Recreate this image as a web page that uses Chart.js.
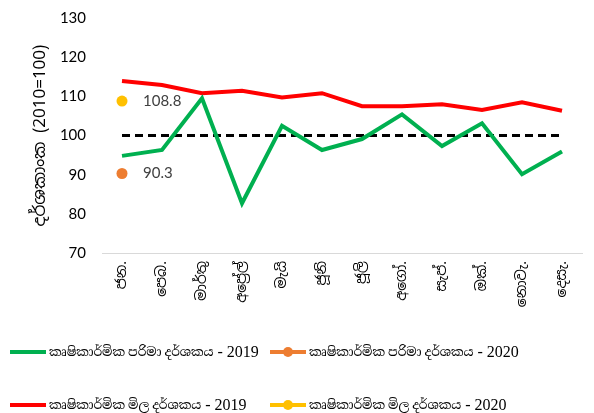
<!DOCTYPE html>
<html>
<head>
<meta charset="utf-8">
<script src="https://cdn.jsdelivr.net/npm/chart.js@4.4.1/dist/chart.umd.min.js"></script>
<style>
  html, body { margin: 0; padding: 0; background: #fff; }
  #wrap { position: relative; width: 594px; height: 413px; overflow: hidden; }
  #box { position: absolute; left: 0; top: 0; width: 594px; height: 330px; }
  #legend { position: absolute; left: 0; top: 0; width: 594px; height: 413px; pointer-events: none; }
  .item { position: absolute; display: flex; align-items: center; white-space: nowrap;
          font-family: 'Liberation Serif', 'Noto Serif Sinhala', 'Noto Sans Sinhala', serif; font-size: 12.5px; color: #000; }
  .item b { font-weight: normal; font-size: 16px; margin-left: 4px; }
  .swatch { position: relative; width: 36px; height: 4px; margin-right: 3px; flex: none; }
  .swatch span { position: absolute; left: 13px; top: -3px; width: 10px; height: 10px; border-radius: 50%; }
</style>
</head>
<body>
<div id="wrap">
  <div id="box"><canvas id="grafico"></canvas></div>
  <div id="legend"></div>
</div>
<script>
// ----- datos -----
const meses = ["ජන.", "පෙබ.", "මාර්තු", "අප්‍රේල්", "මැයි", "ජූනි", "ජූලි", "අගෝ.", "සැප්.", "ඔක්.", "නොවැ.", "දෙසැ."];
const parima2019 = [94.8, 96.3, 109.5, 82.7, 102.5, 96.3, 99.1, 105.4, 97.3, 103.1, 90.1, 95.9];
const mila2019 = [113.9, 112.9, 110.8, 111.4, 109.7, 110.8, 107.5, 107.5, 108.0, 106.5, 108.5, 106.3];
const parima2020 = [90.3];
const mila2020 = [108.8];
const pathaya = [100, 100, 100, 100, 100, 100, 100, 100, 100, 100, 100, 100];
const yTicks = [70, 80, 90, 100, 110, 120, 130];

const fuenteSinhala = "'Noto Sans Sinhala', 'Noto Serif Sinhala', 'Noto Sans', sans-serif";

// etiquetas de valor para los puntos de 2020
const etiquetasValor = {
    id: 'etiquetasValor',
    afterDatasetsDraw(chart) {
        const ctx = chart.ctx;
        chart.data.datasets.forEach((ds, i) => {
            if (!ds.mostrarValor) return;
            const meta = chart.getDatasetMeta(i);
            meta.data.forEach((pt, j) => {
                ctx.save();
                ctx.font = "15px Lato, 'Open Sans', sans-serif";
                ctx.fillStyle = '#404040';
                ctx.textAlign = 'left';
                ctx.textBaseline = 'middle';
                ctx.fillText(ds.data[j].toFixed(1), pt.x + 21, pt.y);
                ctx.restore();
            });
        });
    }
};

const chart = new Chart(document.getElementById('grafico'), {
    type: 'line',
    data: {
        labels: meses,
        datasets: [
            {
                label: 'කෘෂිකාර්මික පරිමා දර්ශකය - 2019',
                data: parima2019,
                borderColor: '#00b050',
                backgroundColor: '#00b050',
                borderWidth: 4,
                pointRadius: 0,
                tension: 0,
                order: 2
            },
            {
                label: 'කෘෂිකාර්මික පරිමා දර්ශකය - 2020',
                data: parima2020,
                borderColor: '#ed7d31',
                backgroundColor: '#ed7d31',
                borderWidth: 4,
                pointRadius: 5.5,
                pointBorderWidth: 0,
                mostrarValor: true,
                order: 1
            },
            {
                label: 'කෘෂිකාර්මික මිල දර්ශකය - 2019',
                data: mila2019,
                borderColor: '#ff0000',
                backgroundColor: '#ff0000',
                borderWidth: 4,
                pointRadius: 0,
                tension: 0,
                order: 2
            },
            {
                label: 'කෘෂිකාර්මික මිල දර්ශකය - 2020',
                data: mila2020,
                borderColor: '#ffc000',
                backgroundColor: '#ffc000',
                borderWidth: 4,
                pointRadius: 5.5,
                pointBorderWidth: 0,
                mostrarValor: true,
                order: 1
            },
            {
                label: 'pathaya',
                data: pathaya,
                borderColor: '#000',
                borderWidth: 3,
                borderDash: [8, 5],
                pointRadius: 0,
                enLeyenda: false,
                order: 3
            }
        ]
    },
    options: {
        responsive: true,
        maintainAspectRatio: false,
        animation: false,
        layout: { padding: { top: 0, right: 12, left: 0, bottom: 0 } },
        plugins: {
            legend: { display: false },
            tooltip: { enabled: false }
        },
        scales: {
            x: {
                offset: true,
                grid: { display: false, drawTicks: false },
                border: { display: true, color: '#d9d9d9', width: 1 },
                ticks: {
                    minRotation: 90,
                    maxRotation: 90,
                    padding: 8,
                    color: '#000',
                    font: { family: fuenteSinhala, size: 14 }
                },
                afterFit: s => { s.height = 77; }
            },
            y: {
                min: 70,
                max: 130,
                afterBuildTicks: s => { s.ticks = yTicks.map(v => ({ value: v })); },
                grid: { display: false, drawTicks: false },
                border: { display: false },
                ticks: {
                    padding: 16,
                    color: '#000',
                    font: { family: "Lato, 'Open Sans', sans-serif", size: 15 }
                },
                title: {
                    display: true,
                    text: 'දර්ශකාංක (2010=100)',
                    color: '#000',
                    padding: { top: 30, bottom: 0 },
                    font: { family: fuenteSinhala, size: 17 }
                },
                afterFit: s => {
                    s.width = 102;
                    s.paddingTop = 18;
                    s.paddingBottom = 9;
                }
            }
        }
    },
    plugins: [etiquetasValor]
});

// leyenda en dos columnas, armada desde los datasets
const leyenda = document.getElementById('legend');
const posiciones = [[10, 352], [270, 352], [10, 405], [270, 405]];
chart.data.datasets.filter(ds => ds.enLeyenda !== false).forEach((ds, i) => {
    const el = document.createElement('div');
    el.className = 'item';
    el.style.left = posiciones[i][0] + 'px';
    el.style.top = (posiciones[i][1] - 11) + 'px';
    el.style.height = '22px';
    const sw = document.createElement('div');
    sw.className = 'swatch';
    sw.style.background = ds.borderColor;
    if (ds.pointRadius > 0) {
        const dot = document.createElement('span');
        dot.style.background = ds.backgroundColor;
        sw.appendChild(dot);
    }
    el.appendChild(sw);
    // nombre en sinhala y el año con letra más grande, como en el original
    const partes = ds.label.split(' - ');
    el.appendChild(document.createTextNode(partes[0]));
    const anio = document.createElement('b');
    anio.textContent = '- ' + partes[1];
    el.appendChild(anio);
    leyenda.appendChild(el);
});
</script>
</body>
</html>
